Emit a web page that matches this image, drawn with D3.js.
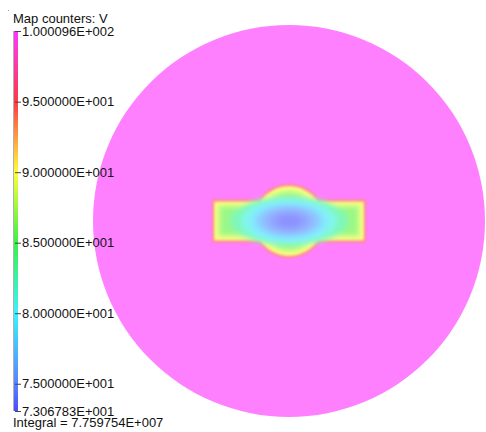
<!DOCTYPE html>
<html>
<head>
<meta charset="utf-8">
<script src="https://cdn.jsdelivr.net/npm/d3@7"></script>
<style>
  body { margin: 0; background: #fff; }
  svg { display: block; font-family: "Liberation Sans", Arial, sans-serif; }
</style>
</head>
<body>
<div id="chart"></div>
<script>
// Map counters for V
var titleText = "Map counters: V"
var integralText = "Integral = 7.759754E+007"

// colour bar values and labels
var vMin = 73.06783, vMax = 100.0096
var tickValues = [100.0096, 95, 90, 85, 80, 75, 73.06783]
var tickLabels = ["1.000096E+002", "9.500000E+001", "9.000000E+001", "8.500000E+001",
  "8.000000E+001", "7.500000E+001", "7.306783E+001"]

// colour map stops (value -> hue)
var stopValues = [73.06783, 75, 80, 85, 90, 95, 100.0096]
var stopColors = ["#1818ff", "#2a60ff", "#00f0ff", "#00ee10", "#ffff00", "#ff0010", "#ff00ff"]

// field contours, in units of the domain radius (domain is a disc of radius 1)
// outer contours follow the electrode outline: a bar with a round bump
var blobLevels = [96, 93, 90, 88, 86]
var blobHalfW = [0.393, 0.386, 0.378, 0.366, 0.35]
var blobHalfH = [0.111, 0.103, 0.095, 0.084, 0.07]
var blobBump = [0.190, 0.182, 0.173, 0.16, 0.145]
// inner contours are nearly elliptic
var ellLevels = [83, 81, 79, 77, 75.5, 74.3, 73.4]
var ellRx = [0.30, 0.245, 0.205, 0.17, 0.135, 0.10, 0.06]
var ellRy = [0.125, 0.115, 0.1, 0.083, 0.068, 0.05, 0.032]

var width = 486, height = 432
var cx = 289, cy = 221, R = 196

var svg = d3.select("#chart").append("svg")
  .attr("width", width)
  .attr("height", height)

var defs = svg.append("defs")

// colour scales
var pure = d3.scaleLinear().domain(stopValues).range(stopColors).clamp(true)
function barColor(v) { return d3.interpolateRgb(pure(v), "#ffffff")(0.22) }
function plotColor(v) { return d3.interpolateRgb(pure(v), "#ffffff")(0.5) }

// Gradient for the colour bar
var grad = defs.append("linearGradient")
  .attr("id", "bar-grad")
  .attr("x1", 0).attr("y1", 1).attr("x2", 0).attr("y2", 0)
grad.selectAll("stop")
  .data(d3.range(0, 41).map(i => vMin + (vMax - vMin) * i / 40))
  .enter().append("stop")
  .attr("offset", d => (d - vMin) / (vMax - vMin))
  .attr("stop-color", d => barColor(d))

defs.append("filter").attr("id", "soft")
  .attr("x", "-20%").attr("y", "-40%").attr("width", "140%").attr("height", "180%")
  .append("feGaussianBlur").attr("stdDeviation", 2.6)
defs.append("filter").attr("id", "edge")
  .attr("x", "-20%").attr("y", "-40%").attr("width", "140%").attr("height", "180%")
  .append("feGaussianBlur").attr("stdDeviation", 0.9)

// plot domain
var x = d3.scaleLinear().domain([-1, 1]).range([cx - R, cx + R])
var y = d3.scaleLinear().domain([-1, 1]).range([cy + R, cy - R])
var k = R  // pixels per unit

svg.append("circle")
  .attr("cx", x(0)).attr("cy", y(0)).attr("r", k)
  .style("fill", plotColor(vMax))

// outline shape: bar with circular bump, as a path
function blobPath(hw, hh, br) {
  var p = d3.path()
  var dx = Math.sqrt(br * br - hh * hh)
  var a = Math.asin(hh / br)
  p.moveTo(x(-hw), y(hh))
  p.lineTo(x(-dx), y(hh))
  p.arc(x(0), y(0), br * k, Math.PI + a, 2 * Math.PI - a)
  p.lineTo(x(hw), y(hh))
  p.lineTo(x(hw), y(-hh))
  p.lineTo(x(dx), y(-hh))
  p.arc(x(0), y(0), br * k, a, Math.PI - a)
  p.lineTo(x(-hw), y(-hh))
  p.closePath()
  return p.toString()
}

var field = svg.append("g")

field.append("g").attr("filter", "url(#edge)")
  .selectAll("path")
  .data(blobLevels.slice(0, 3))
  .enter().append("path")
  .attr("d", (d, i) => blobPath(blobHalfW[i], blobHalfH[i], blobBump[i]))
  .style("fill", d => plotColor(d))

var inner = field.append("g").attr("filter", "url(#soft)")
inner.selectAll("path")
  .data(blobLevels.slice(3))
  .enter().append("path")
  .attr("d", (d, i) => blobPath(blobHalfW[i + 3], blobHalfH[i + 3], blobBump[i + 3]))
  .style("fill", d => plotColor(d))
inner.selectAll("ellipse")
  .data(ellLevels)
  .enter().append("ellipse")
  .attr("cx", x(0)).attr("cy", y(0))
  .attr("rx", (d, i) => ellRx[i] * k)
  .attr("ry", (d, i) => ellRy[i] * k)
  .style("fill", d => plotColor(d))

// title
svg.append("text")
  .attr("x", 13).attr("y", 23)
  .style("font-size", "13px").style("fill", "#111")
  .text(titleText)
svg.append("rect").attr("x", 8).attr("y", 10).attr("width", 1).attr("height", 1).style("fill", "#999")

// colour bar
var yBar = d3.scaleLinear().domain([vMin, vMax]).range([411, 31])

svg.append("rect")
  .attr("x", 14).attr("y", yBar(vMax))
  .attr("width", 4).attr("height", yBar(vMin) - yBar(vMax))
  .style("fill", "url(#bar-grad)")
svg.append("line")
  .attr("x1", 13.5).attr("x2", 13.5)
  .attr("y1", yBar(vMax)).attr("y2", yBar(vMin))
  .style("stroke", "#b0b0b0")

var axis = svg.append("g")
  .attr("transform", "translate(15,0)")
  .call(d3.axisRight(yBar)
    .tickValues(tickValues)
    .tickSize(6)
    .tickPadding(1)
    .tickFormat((d, i) => tickLabels[i]))
axis.select(".domain").remove()
axis.selectAll(".tick line").style("stroke", "#444")
axis.selectAll(".tick text")
  .style("font-size", "13px")
  .style("font-family", "Liberation Sans, Arial, sans-serif")
  .style("fill", "#111")

// integral
svg.append("text")
  .attr("x", 13).attr("y", 427)
  .style("font-size", "13px").style("fill", "#111")
  .text(integralText)
</script>
</body>
</html>
